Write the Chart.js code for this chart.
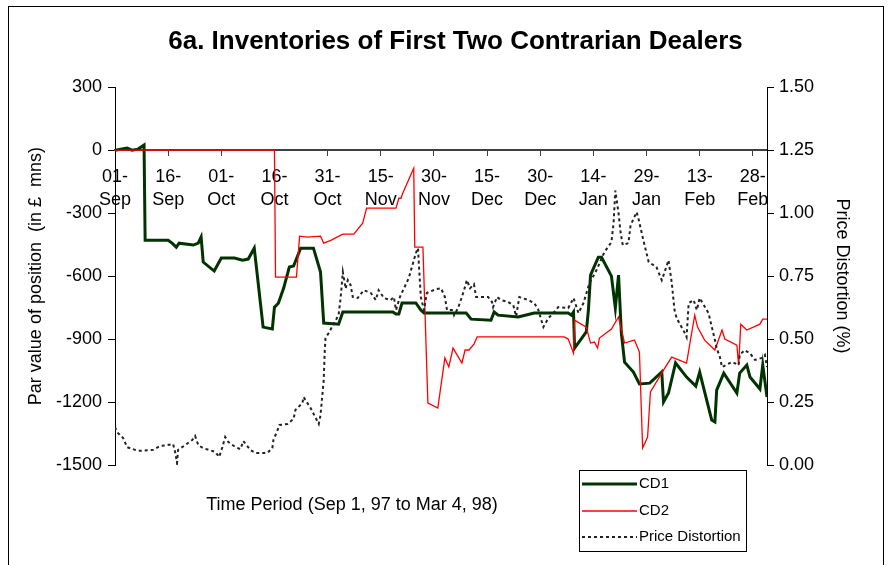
<!DOCTYPE html>
<html><head><meta charset="utf-8">
<script src="https://cdn.jsdelivr.net/npm/chart.js@4.4.1/dist/chart.umd.min.js"></script>
<style>html,body{margin:0;padding:0;background:#fff}</style>
</head><body>
<canvas id="c" width="891" height="565"></canvas>
<script>
// x values are days since 01-Sep-97
const tickLabels = ['01-Sep','16-Sep','01-Oct','16-Oct','31-Oct','15-Nov','30-Nov','15-Dec','30-Dec','14-Jan','29-Jan','13-Feb','28-Feb'];
const seriesNames = ['CD1','CD2','Price Distortion'];

const cd1Days = [0,3.4,4.8,6.5,8.2,8.5,15,16.1,17.3,18.1,22.1,23.5,24.3,24.9,28,30,33.7,36,37.6,39.3,41.8,44.4,45,46.1,47.6,49.2,50.4,52.4,56,58,58.9,63.1,64.3,78.4,79.3,80.1,81,84.9,86.3,87.2,99.1,100.5,106.1,107,108.1,113.8,118.3,127.9,128.8,129.4,129.7,133,133.6,134.2,136.4,137.3,140.1,141.2,142.1,142.9,143.8,146.3,148,150.9,154.3,154.8,156.2,158.2,161.3,163.9,165,168.4,169.3,169.8,171.8,175.5,176.3,178.3,179.2,182,182.8,184];
const cd1Values = [0,10,0,5,24,-429,-429,-443,-462,-443,-452,-443,-414,-533,-576,-514,-514,-524,-519,-467,-843,-852,-748,-729,-657,-557,-552,-467,-467,-581,-824,-829,-771,-771,-781,-781,-728,-728,-762,-776,-776,-805,-810,-771,-786,-795,-776,-776,-786,-771,-943,-866,-762,-595,-510,-510,-600,-752,-595,-871,-1010,-1057,-1114,-1110,-1057,-1200,-1157,-1014,-1081,-1124,-1057,-1286,-1295,-1143,-1062,-1157,-1062,-1024,-1081,-1138,-1024,-1176];

const cd2Days = [0,45,45.3,51.2,52.1,54.3,58,58.9,60.9,64.3,67.4,69.9,71,79.3,80.1,80.7,81.2,84.3,84.6,86.9,88.3,91.1,93.1,94.2,95.4,97.9,98.8,99.9,101.3,102.2,126.8,127.9,129.4,129.7,133,134.2,135.3,136.2,136.7,140.1,142.1,143.8,146.6,148,148.9,150.3,151.1,154.8,157.1,161.3,163.6,164.4,166.4,169.3,171.3,172.1,175.5,176,176.6,178.3,182,182.8,184];
const cd2Values = [0,0,-605,-605,-410,-414,-410,-443,-430,-400,-400,-348,-276,-276,-229,-229,-205,-86,-462,-462,-1205,-1229,-990,-1033,-943,-1014,-952,-952,-924,-890,-890,-900,-967,-810,-843,-919,-914,-943,-895,-852,-795,-919,-905,-962,-1419,-1367,-1152,-1048,-986,-1014,-786,-843,-905,-952,-857,-900,-929,-1024,-829,-857,-829,-805,-805];

const pdDays = [0,0.6,2.3,3.4,6.5,10.8,12.7,16.4,17.0,17.5,17.8,19.8,21.8,22.6,23.5,24.9,28.3,29.4,30.3,31.1,32.0,34.0,35.4,36.2,38.2,39.6,43.0,44.4,44.7,45.9,46.4,48.7,50.4,50.9,52.9,53.2,55.2,57.5,58.0,58.9,59.2,59.4,60.3,61.7,63.1,63.7,64.3,65.1,65.7,66.5,67.1,68.5,70.2,72.2,73.6,74.4,75.9,77.8,78.7,79.3,80.4,81.5,82.9,84.9,85.5,85.8,86.3,87.2,88.0,88.6,90.6,92.0,93.1,93.7,95.4,95.7,96.8,97.6,98.5,99.3,100.2,101.3,101.9,105.3,106.4,106.7,107.8,109.0,110.9,112.4,113.2,114.1,116.6,118.3,119.4,120.9,122.3,123.7,125.1,127.9,129.4,130.8,132.2,133.9,135.9,138.1,140.1,140.7,141.2,142.1,142.7,143.3,144.9,145.5,147.2,147.7,149.1,150.6,152.8,154.3,155.1,156.2,157.1,157.9,158.5,160.8,161.3,161.9,163.3,164.2,165.0,167.5,169.3,169.8,170.7,171.3,174.1,176.0,176.3,177.7,179.2,180.6,182.6,183.4,184.0];
const pdValues = [0.15,0.13,0.107,0.071,0.056,0.06,0.075,0.083,0.05,0.008,0.06,0.079,0.099,0.115,0.079,0.067,0.052,0.032,0.071,0.111,0.091,0.071,0.063,0.095,0.06,0.048,0.048,0.067,0.099,0.139,0.159,0.163,0.183,0.218,0.246,0.27,0.226,0.163,0.198,0.337,0.456,0.504,0.524,0.56,0.595,0.667,0.766,0.70,0.734,0.714,0.667,0.663,0.694,0.683,0.655,0.694,0.663,0.655,0.667,0.615,0.667,0.70,0.742,0.841,0.861,0.786,0.667,0.615,0.683,0.687,0.698,0.702,0.667,0.615,0.615,0.595,0.623,0.655,0.694,0.734,0.702,0.718,0.667,0.667,0.647,0.627,0.667,0.655,0.647,0.635,0.59,0.667,0.655,0.643,0.619,0.548,0.583,0.603,0.627,0.623,0.663,0.603,0.643,0.722,0.774,0.845,0.885,0.96,1.09,1.0,0.921,0.873,0.881,0.952,1.004,0.98,0.893,0.806,0.786,0.734,0.766,0.813,0.726,0.615,0.583,0.524,0.508,0.643,0.655,0.615,0.663,0.603,0.496,0.464,0.429,0.389,0.409,0.397,0.437,0.456,0.444,0.417,0.425,0.437,0.389];

const pts = (xs, ys) => xs.map((x, i) => ({x, y: ys[i]}));
const FONT = "Arial, 'Liberation Sans', sans-serif";

const framePlugin = {
  id: 'frame',
  beforeDraw(chart) {
    const c = chart.ctx;
    c.save();
    c.fillStyle = '#fff';
    c.fillRect(0, 0, chart.width, chart.height);
    c.strokeStyle = '#000';
    c.lineWidth = 1;
    c.strokeRect(8.5, 6.5, 875, 600);
    c.restore();
  }
};

const extrasPlugin = {
  id: 'extras',
  afterDraw(chart) {
    const c = chart.ctx;
    c.save();
    // x-axis title
    c.fillStyle = '#000';
    c.font = '18px ' + FONT;
    c.textAlign = 'center';
    c.textBaseline = 'middle';
    c.fillText('Time Period (Sep 1, 97 to Mar 4, 98)', 352, 505);
    // legend
    const bx = 579.5, by = 470.5, bw = 167, bh = 81;
    c.fillStyle = '#fff';
    c.fillRect(bx, by, bw, bh);
    c.strokeStyle = '#000';
    c.lineWidth = 1;
    c.strokeRect(bx, by, bw, bh);
    const rows = [484, 511, 537];
    chart.data.datasets.forEach((ds, i) => {
      const y = rows[i];
      c.beginPath();
      c.strokeStyle = ds.borderColor;
      c.lineWidth = ds.borderWidth;
      c.setLineDash(ds.borderDash || []);
      c.moveTo(582, y);
      c.lineTo(637, y);
      c.stroke();
      c.setLineDash([]);
      c.fillStyle = '#000';
      c.font = '15px ' + FONT;
      c.textAlign = 'left';
      c.textBaseline = 'middle';
      c.fillText(ds.label, 639, y);
    });
    c.restore();
  }
};

new Chart(document.getElementById('c'), {
  type: 'line',
  data: {
    datasets: [
      {label: seriesNames[0], data: pts(cd1Days, cd1Values), yAxisID: 'y', borderColor: '#003300', borderWidth: 3, pointRadius: 0, tension: 0, order: 3},
      {label: seriesNames[1], data: pts(cd2Days, cd2Values), yAxisID: 'y', borderColor: '#ff0000', borderWidth: 1.3, pointRadius: 0, tension: 0, order: 2},
      {label: seriesNames[2], data: pts(pdDays, pdValues), yAxisID: 'y1', borderColor: '#222', borderWidth: 2, borderDash: [3, 3], pointRadius: 0, tension: 0, order: 1}
    ]
  },
  options: {
    responsive: false,
    animation: false,
    devicePixelRatio: 1,
    layout: {padding: {left: 20, right: 0, top: 0, bottom: 100}},
    plugins: {
      legend: {display: false},
      tooltip: {enabled: false},
      title: {
        display: true,
        text: '6a. Inventories of First Two Contrarian Dealers',
        color: '#000',
        font: {family: FONT, size: 26, weight: 'bold', lineHeight: 1.2},
        padding: {top: 26, bottom: 30}
      }
    },
    scales: {
      x: {
        type: 'linear',
        min: 0, max: 184,
        position: {y: 0},
        afterBuildTicks: (s) => { s.ticks = tickLabels.map((_, i) => ({value: i * 15})); },
        ticks: {
          autoSkip: false, maxRotation: 0, minRotation: 0,
          color: '#000', padding: 10,
          font: {family: FONT, size: 18, lineHeight: 1.3},
          callback: (v) => { const t = tickLabels[Math.round(v / 15)]; if (!t) return ''; const p = t.split('-'); return [p[0] + '-', p[1]]; }
        },
        grid: {drawOnChartArea: false, drawTicks: true, tickLength: 5, color: '#404040'},
        border: {display: true, color: '#404040', width: 2}
      },
      y: {
        position: 'left',
        min: -1500, max: 300,
        afterFit: (s) => { s.width = 95; },
        ticks: {stepSize: 300, color: '#000', padding: 6, font: {family: FONT, size: 18}, callback: (v) => String(v)},
        grid: {drawOnChartArea: false, tickLength: 7, color: '#000'},
        border: {color: '#000', width: 1},
        title: {display: true, text: 'Par value of position  (in £  mns)', color: '#000', font: {family: FONT, size: 18}, padding: {top: 5, bottom: 0}}
      },
      y1: {
        position: 'right',
        min: 0, max: 1.5,
        afterFit: (s) => { s.width = 124; },
        ticks: {stepSize: 0.25, color: '#000', padding: 5, font: {family: FONT, size: 18}, callback: (v) => v.toFixed(2)},
        grid: {drawOnChartArea: false, tickLength: 7, color: '#000'},
        border: {color: '#000', width: 1},
        title: {display: true, text: 'Price Distortion (%)', color: '#000', font: {family: FONT, size: 18}, padding: {top: 38, bottom: 0}}
      }
    }
  },
  plugins: [framePlugin, extrasPlugin]
});
</script>
</body></html>
